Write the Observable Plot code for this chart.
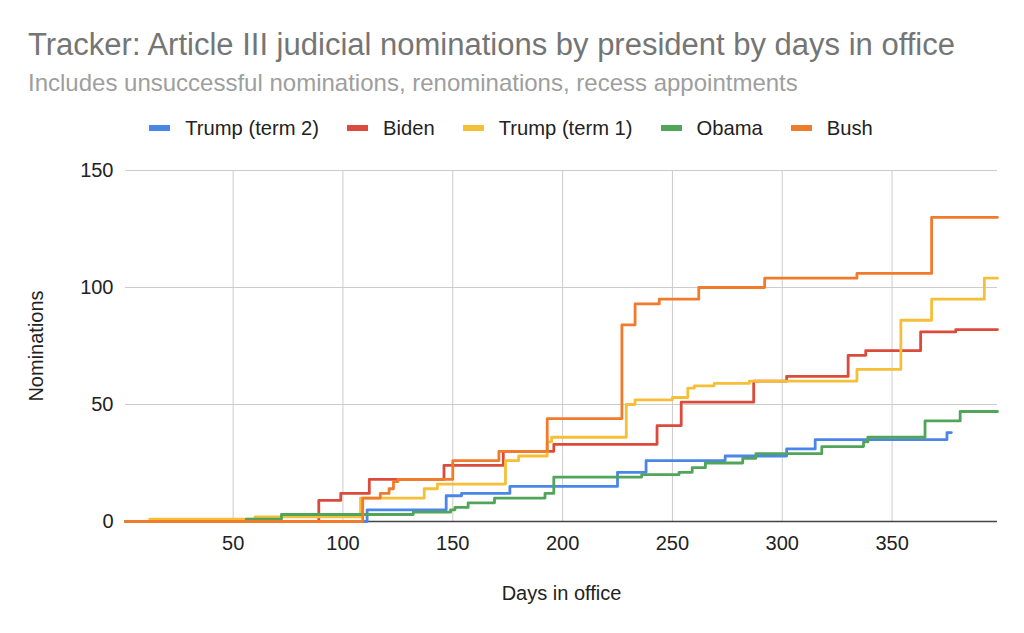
<!DOCTYPE html>
<html><head><meta charset="utf-8">
<script src="https://cdn.jsdelivr.net/npm/d3@7"></script>
<script src="https://cdn.jsdelivr.net/npm/@observablehq/plot@0.6"></script>
<style>
body{margin:0;background:#fff;}
#wrap{position:relative;width:1024px;height:633px;font-family:"Liberation Sans",Arial,sans-serif;overflow:hidden;}
#title{position:absolute;left:28px;top:28.8px;font-size:31px;line-height:1;color:#757575;white-space:nowrap;}
#subtitle{position:absolute;left:28px;top:71.4px;font-size:24px;line-height:1;color:#9e9e9e;white-space:nowrap;}
#legend{position:absolute;left:0;width:1022px;top:118px;height:20px;display:flex;justify-content:center;font-size:20.2px;line-height:1;color:#222;white-space:nowrap;}
.item{display:flex;align-items:center;margin:0 14px;}
.sw{display:inline-block;width:21px;height:6px;margin-right:15px;position:relative;top:0px;}
#chart{position:absolute;left:0;top:150px;}
</style></head>
<body><div id="wrap">
<div id="title">Tracker: Article III judicial nominations by president by days in office</div>
<div id="subtitle">Includes unsuccessful nominations, renominations, recess appointments</div>
<div id="legend"></div>
<div id="chart"></div>
</div>
<script>
const seriesNames = ["Trump (term 2)", "Biden", "Trump (term 1)", "Obama", "Bush"];
const seriesColors = ["#4a86e8", "#db4b3b", "#f5bf38", "#51a55a", "#f07b2d"];

const trump2Days   = [1, 111, 147, 154, 176, 225, 238, 274, 302, 315, 375, 377];
const trump2Values = [0, 5, 11, 12, 15, 21, 26, 28, 31, 35, 38, 38];

const bidenDays   = [1, 89, 99, 112, 146, 173, 196, 243, 254, 287, 302, 330, 338, 363, 379, 398];
const bidenValues = [0, 9, 12, 18, 24, 30, 33, 41, 51, 60, 62, 71, 73, 81, 82, 82];

const trump1Days   = [1, 12, 60, 108, 137, 143, 174, 180, 193, 195, 229, 233, 250, 257, 260, 269, 285, 334, 354, 368, 392, 398];
const trump1Values = [0, 1, 2, 10, 14, 16, 26, 28, 34, 36, 50, 52, 53, 57, 58, 59, 60, 65, 86, 95, 104, 104];

const obamaDays   = [1, 56, 72, 132, 149, 151, 157, 169, 192, 196, 236, 253, 259, 265, 282, 288, 318, 337, 339, 365, 381, 398];
const obamaValues = [0, 1, 3, 4, 5, 6, 8, 10, 12, 19, 20, 21, 23, 25, 27, 29, 32, 34, 36, 43, 47, 47];

const bushDays   = [1, 109, 117, 121, 123, 125, 150, 171, 193, 227, 233, 244, 262, 292, 334, 368, 398];
const bushValues = [0, 10, 12, 14, 17, 18, 26, 30, 44, 84, 93, 95, 100, 104, 106, 130, 130];

const xTicks = [50, 100, 150, 200, 250, 300, 350];
const yTicks = [0, 50, 100, 150];

const seriesDays = [trump2Days, bidenDays, trump1Days, obamaDays, bushDays];
const seriesValues = [trump2Values, bidenValues, trump1Values, obamaValues, bushValues];

const seriesRows = seriesNames.map((name, i) =>
  seriesDays[i].map((d, j) => ({series: name, day: d, value: seriesValues[i][j]})));

// legend
const legend = document.getElementById("legend");
seriesNames.forEach((name, i) => {
  const it = document.createElement("div");
  it.className = "item";
  const sw = document.createElement("span");
  sw.className = "sw";
  sw.style.background = seriesColors[i];
  const tx = document.createElement("span");
  tx.textContent = name;
  it.appendChild(sw); it.appendChild(tx);
  legend.appendChild(it);
});

const chart = Plot.plot({
  width: 1024, height: 483,
  marginTop: 20, marginBottom: 112, marginLeft: 125, marginRight: 27,
  style: {fontFamily: "Liberation Sans, Arial, sans-serif", fontSize: "20px", color: "#222", background: "transparent"},
  x: {domain: [1, 398]},
  y: {domain: [0, 150]},
  marks: [
    Plot.gridY({ticks: yTicks, stroke: "#cccccc", strokeOpacity: 1}),
    Plot.gridX({ticks: xTicks, stroke: "#cccccc", strokeOpacity: 1}),
    Plot.axisY({ticks: yTicks, tickSize: 0, tickPadding: 12, label: "Nominations", labelAnchor: "center", labelArrow: "none", labelOffset: 97}),
    Plot.axisX({ticks: xTicks, tickSize: 0, tickPadding: 14, label: "Days in office", labelAnchor: "center", labelArrow: "none", labelOffset: 78}),
    Plot.ruleY([0], {stroke: "#444", strokeWidth: 1.5}),
    ...seriesRows.map((rows, i) => Plot.line(rows, {x: "day", y: "value", curve: "step-after", stroke: seriesColors[i], strokeWidth: 2.8}))
  ]
});
document.getElementById("chart").appendChild(chart);
</script>
</body></html>
